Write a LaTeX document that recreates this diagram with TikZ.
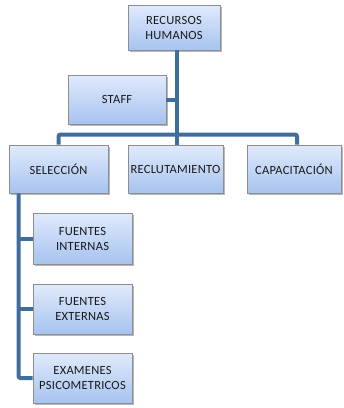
\documentclass[tikz,border=0pt]{standalone}
\usepackage{fontspec}
\setmainfont{Carlito}[LetterSpace=2]
\usetikzlibrary{shadows}
\definecolor{linkblue}{HTML}{3F6E9E}
\definecolor{boxtop}{HTML}{E0EAFB}
\definecolor{boxbot}{HTML}{A7C3F0}
\definecolor{boxedge}{HTML}{8E8E8E}
\begin{document}
\begin{tikzpicture}[x=1pt,y=-1pt,
  box/.style={draw=boxedge, line width=0.8pt, top color=boxtop, bottom color=boxbot,
    align=center, text=black!90, font=\fontsize{12.5}{15}\selectfont, inner sep=0pt,
    drop shadow={shadow xshift=1.5pt, shadow yshift=-1.8pt, opacity=0.4, fill=black!70}},
  link/.style={draw=linkblue, line width=4pt}]
\useasboundingbox (0,0) rectangle (344,408);

% connector skeleton
\coordinate (trunk) at (177,0);
\coordinate (bus) at (177,134.5);
\coordinate (lt) at (18.5,0);

% boxes
\node[box, minimum width=92pt, minimum height=45pt] (rh) at (174,27.5) {RECURSOS\\HUMANOS};
\node[box, minimum width=98pt, minimum height=49pt] (staff) at (117,99.5) {STAFF};
\node[box, minimum width=99pt, minimum height=48pt] (sel) at (58.5,169) {SELECCIÓN};
\node[box, minimum width=95pt, minimum height=48pt] (rec) at (175.5,169) {RECLUTAMIENTO};
\node[box, minimum width=94pt, minimum height=48pt] (cap) at (294,169) {CAPACITACIÓN};
\node[box, minimum width=99pt, minimum height=51pt] (fi) at (82.5,238.5) {FUENTES\\INTERNAS};
\node[box, minimum width=99pt, minimum height=50pt] (fe) at (82.5,309) {FUENTES\\EXTERNAS};
\node[box, minimum width=99pt, minimum height=50pt] (ex) at (82.5,378) {EXAMENES\\PSICOMETRICOS};

% connectors
\draw[link] (rh.south -| trunk) -- (trunk |- rec.north);
\draw[link] (staff.east) -- (staff.east -| trunk);
\draw[link, rounded corners=2pt] (sel.north) |- (bus) -| ([xshift=3pt]cap.north);
\draw[link, rounded corners=2pt] (sel.south -| lt) |- (ex.west);
\draw[link] (lt |- fi.west) -- (fi.west);
\draw[link] (lt |- fe.west) -- (fe.west);
\end{tikzpicture}
\end{document}
